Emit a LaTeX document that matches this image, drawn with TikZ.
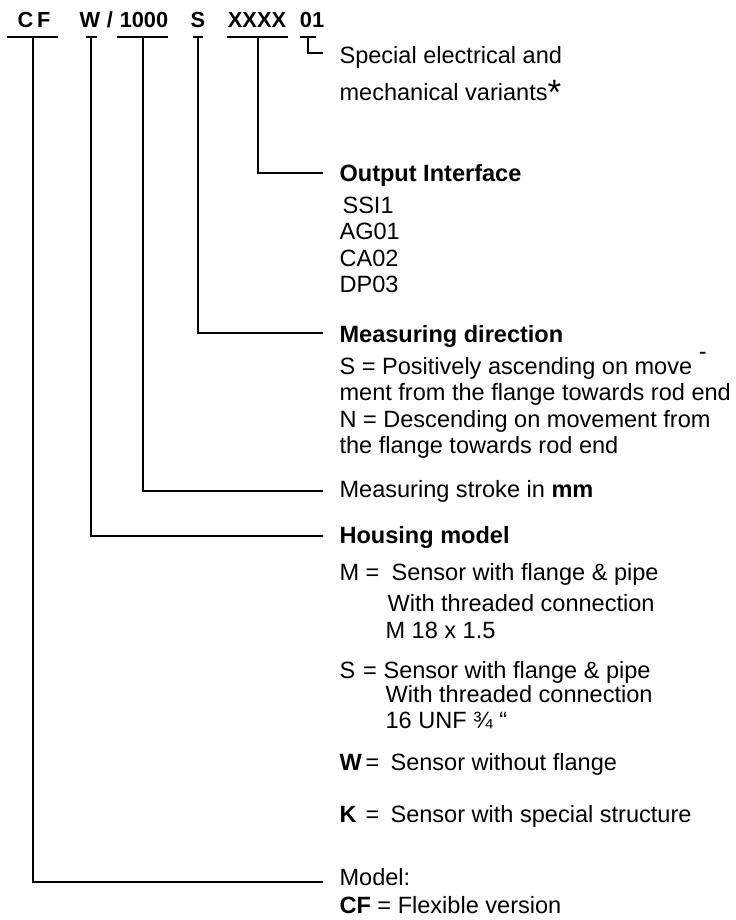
\documentclass[tikz,border=0pt]{standalone}
\usepackage{fontspec}
\setmainfont{Liberation Sans}
\usepackage{tikz}
\usetikzlibrary{calc,positioning}
\newcommand{\codekey}[2][0.52cm]{\makebox[#1][l]{#2}=}

\begin{document}
\begin{tikzpicture}[x=0.02cm, y=-0.02cm, line width=0.65pt,
	code/.style={anchor=base, inner sep=0pt, text depth=0pt, font=\fontsize{12.4}{14}\selectfont\bfseries},
	label/.style={anchor=base west, inner sep=0pt, font=\fontsize{13.4}{15.1}\selectfont},
	title/.style={label, font=\fontsize{13.4}{15.1}\selectfont\bfseries}]

	\useasboundingbox (0,0) rectangle (735,920);

	\node[code, shift = {(34, 27)}] (cf) {C\,F};
	\node[code, shift = {(90, 27)}] (w) {W};
	\node[code, shift = {(110, 27)}] (slash) {/};
	\node[code, shift = {(144, 27)}] (len) {1000};
	\node[code, shift = {(198, 27)}] (s) {S};
	\node[code, shift = {(257, 27)}] (xx) {XXXX};
	\node[code, shift = {(312, 27)}] (c01) {01};

	\node[label, shift = {(339, 63)}] (var) {Special electrical and};
	\node[label, shift = {(339, 100)}] (var2) {mechanical variants\raisebox{-0.08cm}{\fontsize{20}{20}\selectfont *}};

	\node[title, shift = {(339, 181)}] (iface) {Output Interface};
	\node[label, shift = {(339, 213)}] (iface_list) {
		\begin{tabular}[t]{@{}l@{}}
			\hspace{0.06cm}SSI1\\
			AG01\\
			CA02\\
			DP03
		\end{tabular}
	};

	\node[title, shift = {(339, 342)}] (dir) {Measuring direction};
	\node[label, shift = {(339, 374)}] (dir_list) {
		\begin{tabular}[t]{@{}l@{}}
			S = Positively ascending on move \smash{\raisebox{0.3cm}{-}}\\
			ment from the flange towards rod end\\
			N = Descending on movement from\\
			the flange towards rod end
		\end{tabular}
	};

	\node[label, shift = {(339, 497)}] (stroke) {Measuring stroke in \textbf{mm}};

	\node[title, shift = {(339, 543)}] (housing) {Housing model};

	\node[label, shift = {(339, 580)}] (hm_m) {\codekey{M}};
	\node[label, shift = {(391, 580)}] (hm_m1) {Sensor with flange \& pipe};
	\node[label, shift = {(387, 611)}] (hm_m2) {With threaded connection};
	\node[label, shift = {(385, 638)}] (hm_m3) {M 18 x 1.5};

	\node[label, shift = {(339, 678)}] (hm_s) {\codekey[0.47cm]{S}};
	\node[label, shift = {(383, 678)}] (hm_s1) {Sensor with flange \& pipe};
	\node[label, shift = {(385, 702)}] (hm_s2) {With threaded connection};
	\node[label, shift = {(385, 728)}] (hm_s3) {16 UNF ¾ “};

	\node[label, shift = {(339, 770)}] (hm_w) {\codekey{\textbf{W}}};
	\node[label, shift = {(390, 770)}] (hm_w1) {Sensor without flange};

	\node[label, shift = {(339, 822)}] (hm_k) {\codekey{\textbf{K}}};
	\node[label, shift = {(390, 822)}] (hm_k1) {Sensor with special structure};

	\node[label, shift = {(339, 885)}] (model) {Model:};
	\node[label, shift = {(339, 913)}] (model2) {\textbf{CF} = Flexible version};

	\draw ($(cf.base) + (-27, 10)$) -- ($(cf.base) + (24, 10)$);
	\draw ($(w.base) + (-4, 10)$) -- ($(w.base) + (7, 10)$);
	\draw ($(len.base) + (-27, 10)$) -- ($(len.base) + (24, 10)$);
	\draw ($(s.base) + (-5, 10)$) -- ($(s.base) + (5, 10)$);
	\draw ($(xx.base) + (-30, 10)$) -- ($(xx.base) + (31, 10)$);
	\draw ($(c01.base) + (-12, 10)$) -- ($(c01.base) + (4, 10)$);

	\draw ($(c01.base) + (-4, 10)$) |- ($(var.base west) + (-16, -10)$);
	\draw ($(xx.base) + (1, 10)$) |- ($(iface.base west) + (-16, -8)$);
	\draw ($(s.base) + (0, 10)$) |- ($(dir.base west) + (-16, -9)$);
	\draw ($(len.base) + (-1, 10)$) |- ($(stroke.base west) + (-16, -6)$);
	\draw ($(w.base) + (1, 10)$) |- ($(housing.base west) + (-16, -7)$);
	\draw ($(cf.base) + (-1, 10)$) |- ($(model.base west) + (-16, -3)$);
\end{tikzpicture}
\end{document}
